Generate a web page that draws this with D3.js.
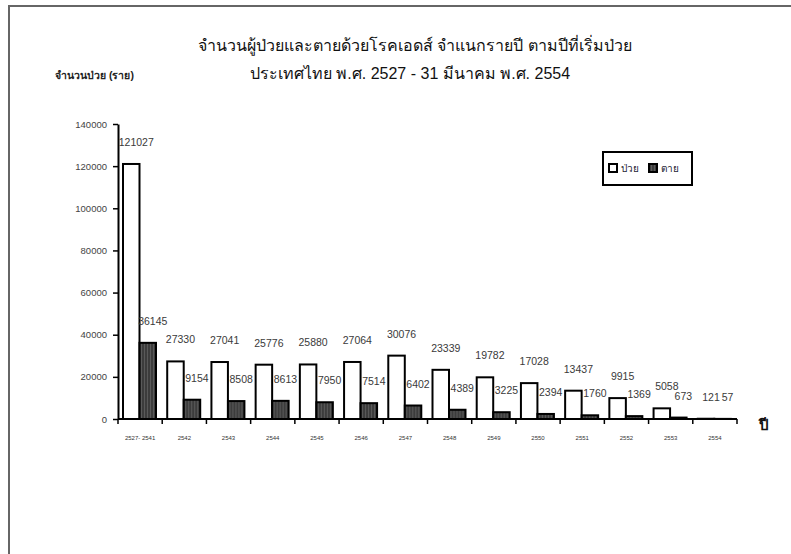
<!DOCTYPE html>
<meta charset="utf-8">
<style>
 body { margin: 0; background: #fff; }
 svg { display: block; font-family: 'Liberation Sans', Arial, sans-serif; }
 .val { font-size: 10.5px; fill: #3a3a3a; text-anchor: middle; }
</style>
<body>
<script src="https://cdn.jsdelivr.net/npm/d3@7"></script>
<script>

 // data
 var years = ["2527- 2541", "2542", "2543", "2544", "2545", "2546", "2547",
              "2548", "2549", "2550", "2551", "2552", "2553", "2554"];
 var sick = [121027, 27330, 27041, 25776, 25880, 27064, 30076,
             23339, 19782, 17028, 13437, 9915, 5058, 121];
 var dead = [36145, 9154, 8508, 8613, 7950, 7514, 6402,
             4389, 3225, 2394, 1760, 1369, 673, 57];
 var yTicks = [0, 20000, 40000, 60000, 80000, 100000, 120000, 140000];
 var seriesNames = ["ป่วย", "ตาย"];

 var W = 791, H = 554;
 var plot = {left: 118, right: 737, top: 124, bottom: 419};

 var svg = d3.select("body").append("svg")
             .attr("width", W)
             .attr("height", H);

 // striped fill for the deaths bars
 var pat = svg.append("defs").append("pattern")
              .attr("id", "stripes")
              .attr("patternUnits", "userSpaceOnUse")
              .attr("width", 3).attr("height", 3);
 pat.append("rect").attr("width", 3).attr("height", 3).attr("fill", "#3c3c3c");
 pat.append("rect").attr("x", 2).attr("width", 1).attr("height", 3).attr("fill", "#5a5a5a");

 // page frame (top and left only)
 svg.append("path")
    .attr("d", "M9," + H + "V6H" + W)
    .attr("fill", "none")
    .attr("stroke", "#666")
    .attr("stroke-width", 2);

 // titles
 svg.append("text")
    .attr("x", 415).attr("y", 51)
    .attr("text-anchor", "middle")
    .attr("font-size", 16)
    .attr("fill", "#111")
    .text("จำนวนผู้ป่วยและตายด้วยโรคเอดส์ จำแนกรายปี ตามปีที่เริ่มป่วย");
 svg.append("text")
    .attr("x", 410).attr("y", 79)
    .attr("text-anchor", "middle")
    .attr("font-size", 16)
    .attr("fill", "#111")
    .text("ประเทศไทย พ.ศ. 2527 - 31 มีนาคม พ.ศ. 2554");
 svg.append("text")
    .attr("x", 55).attr("y", 79)
    .attr("font-size", 10.5)
    .attr("font-weight", "bold")
    .attr("fill", "#222")
    .text("จำนวนป่วย (ราย)");

 var x = d3.scaleBand()
           .domain(years)
           .range([plot.left, plot.right]);

 var x1 = d3.scaleBand()
            .domain([0, 1])
            .range([5, 38]);

 var y = d3.scaleLinear()
           .domain([0, 140000])
           .range([plot.bottom, plot.top]);

 // y axis
 var gY = svg.append("g")
             .attr("transform", "translate(" + plot.left + ",0)")
             .call(d3.axisLeft(y).tickValues(yTicks).tickSize(5).tickSizeOuter(0).tickPadding(6)
                     .tickFormat(d3.format("d")));
 gY.select(".domain").attr("stroke", "#000").attr("stroke-width", 2);
 gY.selectAll("line").attr("stroke", "#000").attr("stroke-width", 1.5);
 gY.selectAll("text").attr("font-size", 9.5).attr("fill", "#444")
   .attr("font-family", "'Liberation Sans', Arial, sans-serif");

 var rows = years.map(function(yr, i) { return {year: yr, vals: [sick[i], dead[i]]}; });

 var groups = svg.append("g").selectAll("g")
                 .data(rows)
                 .enter().append("g")
                 .attr("transform", function(d) { return "translate(" + x(d.year) + ",0)"; });

 groups.selectAll("rect")
       .data(function(d) { return d.vals.map(function(v, k) { return {k: k, v: v}; }); })
       .enter().append("rect")
       .attr("x", function(d) { return x1(d.k); })
       .attr("width", x1.bandwidth())
       .attr("y", function(d) { return y(d.v); })
       .attr("height", function(d) { return plot.bottom - y(d.v); })
       .attr("fill", function(d) { return d.k == 0 ? "#fff" : "url(#stripes)"; })
       .attr("stroke", "#000")
       .attr("stroke-width", 2);

 groups.selectAll("text")
       .data(function(d) { return d.vals.map(function(v, k) { return {k: k, v: v}; }); })
       .enter().append("text")
       .attr("class", "val")
       .attr("x", function(d) { return x1(d.k) + x1.bandwidth() / 2 + 5; })
       .attr("y", function(d) { return y(d.v) - 18; })
       .text(function(d) { return d.v; });

 // x axis
 var gX = svg.append("g")
             .attr("transform", "translate(0," + plot.bottom + ")");
 gX.append("line")
   .attr("x1", plot.left).attr("x2", plot.right)
   .attr("stroke", "#000").attr("stroke-width", 2);
 gX.selectAll(".tk")
   .data(years.concat(["end"]))
   .enter().append("line")
   .attr("class", "tk")
   .attr("x1", function(d, i) { return i < years.length ? x(d) : plot.right; })
   .attr("x2", function(d, i) { return i < years.length ? x(d) : plot.right; })
   .attr("y1", 0).attr("y2", 5)
   .attr("stroke", "#000").attr("stroke-width", 1.5);
 gX.selectAll(".lb")
   .data(years)
   .enter().append("text")
   .attr("class", "lb")
   .attr("x", function(d) { return x(d) + x.bandwidth() / 2; })
   .attr("y", 21)
   .attr("text-anchor", "middle")
   .attr("font-size", 6)
   .attr("fill", "#333")
   .text(function(d) { return d; });

 svg.append("text")
    .attr("x", 759).attr("y", 430)
    .attr("font-size", 15)
    .attr("font-weight", "bold")
    .attr("fill", "#111")
    .text("ปี");

 // legend
 var lg = svg.append("g").attr("transform", "translate(603,152)");
 lg.append("rect")
   .attr("width", 89).attr("height", 33)
   .attr("fill", "#fff").attr("stroke", "#000").attr("stroke-width", 2);
 var item = lg.selectAll(".it")
              .data(seriesNames)
              .enter().append("g")
              .attr("class", "it")
              .attr("transform", function(d, i) { return "translate(" + (6 + i * 40) + ",12)"; });
 item.append("rect")
     .attr("width", 8).attr("height", 8)
     .attr("fill", function(d, i) { return i == 0 ? "#fff" : "url(#stripes)"; })
     .attr("stroke", "#000").attr("stroke-width", 2);
 item.append("text")
     .attr("x", 12).attr("y", 8)
     .attr("font-size", 10)
     .attr("fill", "#223")
     .text(function(d) { return d; });

</script>
</body>
